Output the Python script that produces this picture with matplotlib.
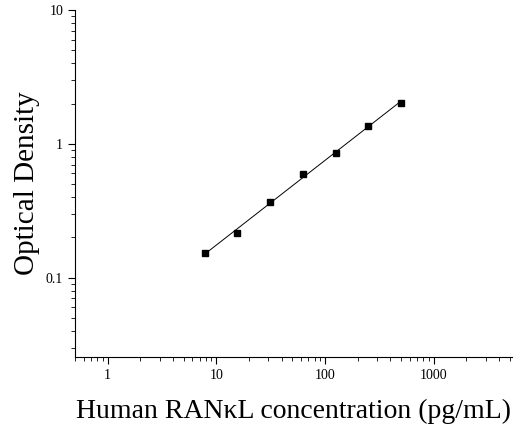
import numpy as np
import matplotlib.pyplot as plt

plt.rcParams['font.family'] = ['Liberation Serif', 'DejaVu Serif']

conc = [7.8, 15.6, 31.25, 62.5, 125, 250, 500]
od = [0.154, 0.214, 0.366, 0.594, 0.855, 1.365, 2.03]

fig = plt.figure(figsize=(5.19, 4.28), dpi=100)
ax = fig.add_axes([75/519, 1-357/428, 437/519, 347/428])

# log-log linear fit
k, b = np.polyfit(np.log10(conc), np.log10(od), 1)
xf = np.logspace(np.log10(conc[0]), np.log10(conc[-1]), 50)
ax.plot(xf, 10**(k*np.log10(xf)+b), color='black', lw=0.7)
ax.plot(conc, od, 's', color='black', ms=5)

ax.set_xscale('log')
ax.set_yscale('log')
ax.set_xlim(0.5, 5250)
ax.set_ylim(0.0255, 10)
ax.set_xticks([1, 10, 100, 1000])
ax.set_xticklabels(['1', '10', '100', '1000'])
ax.set_yticks([0.1, 1, 10])
ax.set_yticklabels(['0.1', '1', '10'])
for s in ['top', 'right']:
    ax.spines[s].set_visible(False)
ax.tick_params(which='both', direction='out', labelsize=10)
ax.tick_params(which='major', length=5)
ax.tick_params(which='minor', length=3)
ax.set_xlabel('Human RANκL concentration (pg/mL)', fontsize=20, labelpad=12)
ax.set_ylabel('Optical Density', fontsize=21)

fig.savefig('out.png', dpi=100)
